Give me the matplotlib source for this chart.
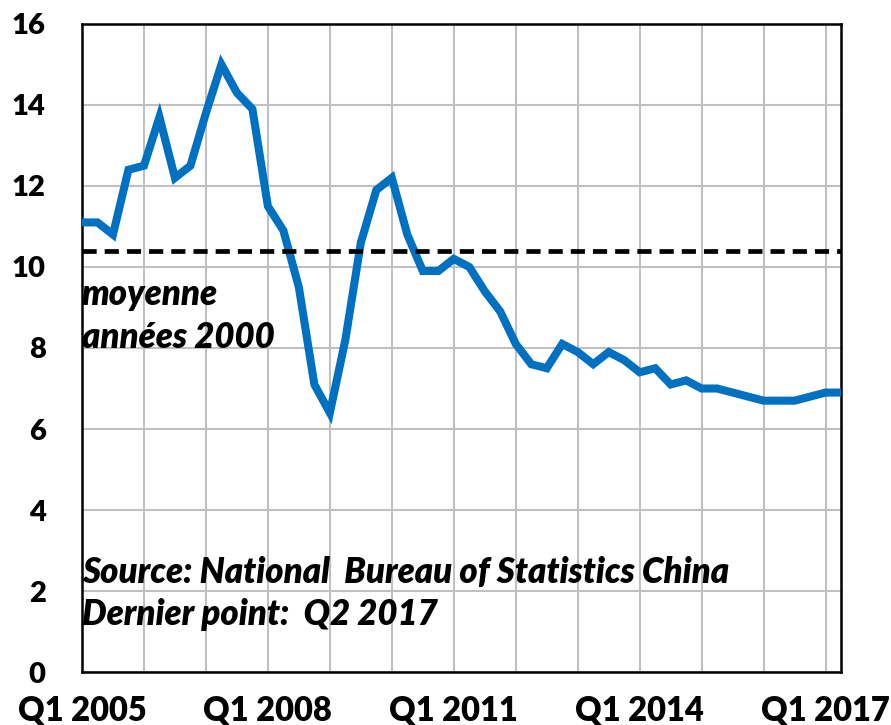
import numpy as np
import matplotlib
matplotlib.use('Agg')
from matplotlib import pyplot as plt

# PIB Chine, croissance annuelle en %, trimestriel Q1 2005 -> Q2 2017
growth = [11.1, 11.1, 10.8, 12.4,
          12.5, 13.7, 12.2, 12.5,
          13.8, 15.0, 14.3, 13.9,
          11.5, 10.9, 9.5, 7.1,
          6.4, 8.2, 10.6, 11.9,
          12.2, 10.8, 9.9, 9.9,
          10.2, 10.0, 9.4, 8.9,
          8.1, 7.6, 7.5, 8.1,
          7.9, 7.6, 7.9, 7.7,
          7.4, 7.5, 7.1, 7.2,
          7.0, 7.0, 6.9, 6.8,
          6.7, 6.7, 6.7, 6.8,
          6.9, 6.9]
avg_2000s = 10.4
tick_labels = ['Q1 2005', 'Q1 2008', 'Q1 2011', 'Q1 2014', 'Q1 2017']

FONT = ['Lato', 'DejaVu Sans']

fig = plt.figure(figsize=(8.91, 7.25), dpi=100)
ax = fig.add_axes([0.092, 0.073, 0.852, 0.894])

x = np.arange(len(growth))
ax.plot(x, growth, color='#0070C0', lw=5.8, solid_joinstyle='miter', zorder=3)
ax.axhline(avg_2000s, color='black', lw=3.4, dashes=(3.0, 1.7), zorder=4)

ax.set_xlim(0, len(growth) - 1)
ax.set_ylim(0, 16)
ax.set_yticks(np.arange(0, 17, 2))
ax.set_xticks(np.arange(0, len(growth), 4), minor=True)
ax.set_xticks(np.arange(0, len(growth), 12))
ax.set_xticklabels(tick_labels)

ax.grid(True, which='both', color='#c0c0c0', lw=1.5, zorder=0)
ax.set_axisbelow(True)
ax.tick_params(which='both', length=0)
ax.tick_params(axis='y', pad=26, labelsize=21)
ax.tick_params(axis='x', pad=16, labelsize=23.5)
for lab in ax.get_xticklabels() + ax.get_yticklabels():
    lab.set_family(FONT)
    lab.set_fontweight('heavy')
for sp in ax.spines.values():
    sp.set_linewidth(1.8)

txt = dict(family=FONT, fontsize=25, fontweight='heavy', style='italic',
           va='baseline', ha='left')
ax.text(0, 9.05, 'moyenne', **txt)
ax.text(0, 8.0, 'années 2000', **txt)
ax.text(0, 2.2, 'Source: National  Bureau of Statistics China', **txt)
ax.text(0, 1.15, 'Dernier point:  Q2 2017', **txt)

plt.savefig('out.png', dpi=100)
